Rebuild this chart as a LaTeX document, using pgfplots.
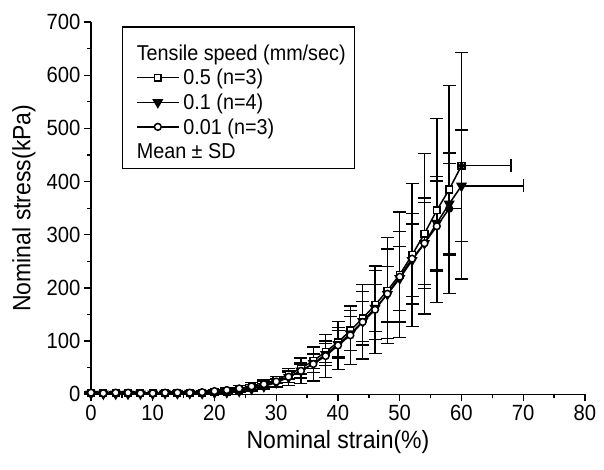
\documentclass[border=0pt]{standalone}
\usepackage{fontspec}
\setmainfont{Liberation Sans}[FakeStretch=0.92]
\usepackage{pgfplots}
\pgfplotsset{compat=1.18}
\begin{document}
\begin{tikzpicture}
\useasboundingbox (-91bp,-75.7bp) rectangle (513bp,394.3bp);
\begin{axis}[
  at={(0bp,0bp)}, anchor=south west,
  scale only axis, width=494bp, height=372.3bp,
  xmin=0, xmax=80, ymin=0, ymax=700,
  axis lines=left, axis line style={-, line width=1.4bp},
  xtick={0,10,...,80}, ytick={0,100,...,700},
  minor x tick num=1, minor y tick num=1,
  tick align=outside, major tick length=7bp, minor tick length=4bp,
  tick style={line width=1.3bp, black},
  /pgf/number format/assume math mode=true,
  tick label style={font=\fontsize{22bp}{26bp}\selectfont},
  label style={font=\fontsize{25bp}{29bp}\selectfont},
  xlabel={Nominal strain(\%)}, ylabel={Nominal stress(kPa)},
  xlabel style={at={(axis description cs:0.5,0)}, anchor=north, yshift=-33bp},
  ylabel style={at={(axis description cs:0,0.5)}, anchor=south, xshift=-0bp, yshift=52bp},
  clip=false,
  legend style={at={(0.0621,0.988)}, anchor=north west, draw=black, line width=1.2bp,
    inner xsep=7bp, inner ysep=5bp, row sep=0pt, column sep=2bp,
    nodes={inner xsep=2bp, inner ysep=0pt, text height=19.6bp, text depth=5bp},
    font=\fontsize{21.5bp}{25bp}\selectfont},
  legend cell align=left,
  legend image code/.code={\path (-7bp,0bp); \draw[mark repeat=2,mark phase=2,#1] plot coordinates {(0bp,0bp) (20.8bp,0bp) (41.7bp,0bp)};},
  every axis plot/.append style={line width=1.5bp, black},
  error bars/error bar style={line width=1.4bp, black, solid},
  error bars/error mark options={rotate=90, mark size=6.5bp, line width=1.4bp, black},
]
\addlegendimage{empty legend}
\addlegendentry[text height=28.3bp]{\hspace*{-46.7bp}Tensile speed (mm/sec)}

% 0.5 mm/sec
\addplot[mark=square*, mark size=3.3bp, mark options={fill=white, solid, line width=1.5bp},
  error bars/.cd, y dir=both, y explicit] coordinates {
(0,2) +- (0,1) (2,2) +- (0,1) (4,2) +- (0,1) (6,2) +- (0,1) (8,2) +- (0,1)
(10,2) +- (0,1) (12,2) +- (0,1) (14,3) +- (0,1) (16,3) +- (0,1) (18,3) +- (0,1)
(20,4) +- (0,2) (22,5) +- (0,3) (24,8) +- (0,4) (26,13) +- (0,5) (28,19) +- (0,5)
(30,27) +- (0,6) (32,37) +- (0,8) (34,49) +- (0,11) (36,63) +- (0,14) (38,80) +- (0,20)
(40,98) +- (0,28) (42,120) +- (0,38) (44,143) +- (0,50) (46,168) +- (0,65) (48,195) +- (0,100)
(50,225) +- (0,118) (52,262) +- (0,134) (54,302) +- (0,151) (56,346) +- (0,173) (58,385) +- (0,196)
(60,430) +- (0,213)
};
\addlegendentry{0.5 (n=3)}

% 0.1 mm/sec
\addplot[mark=triangle*, mark size=5bp, mark options={fill=black, solid, rotate=180},
  error bars/.cd, y dir=both, y explicit] coordinates {
(0,1) +- (0,1) (2,1) +- (0,1) (4,1) +- (0,1) (6,1) +- (0,1) (8,1) +- (0,1)
(10,1) +- (0,1) (12,2) +- (0,1) (14,2) +- (0,1) (16,2) +- (0,1) (18,2) +- (0,1)
(20,3) +- (0,2) (22,4) +- (0,2) (24,6) +- (0,3) (26,10) +- (0,4) (28,15) +- (0,5)
(30,22) +- (0,7) (32,32) +- (0,10) (34,44) +- (0,13) (36,58) +- (0,17) (38,75) +- (0,21)
(40,94) +- (0,26) (42,114) +- (0,32) (44,137) +- (0,38) (46,162) +- (0,44) (48,188) +- (0,52)
(50,218) +- (0,60) (52,252) +- (0,68) (54,284) +- (0,77) (56,322) +- (0,88) (58,358) +- (0,96)
(60,392) +- (0,105)
};
\addlegendentry{0.1 (n=4)}

% 0.01 mm/sec
\addplot[mark=*, mark size=3.4bp, mark options={fill=white, solid, line width=1.5bp},
  error bars/.cd, y dir=both, y explicit] coordinates {
(0,3) +- (0,1) (2,2) +- (0,1) (4,3) +- (0,1) (6,3) +- (0,1) (8,2) +- (0,1)
(10,2) +- (0,1) (12,3) +- (0,1) (14,3) +- (0,1) (16,3) +- (0,1) (18,4) +- (0,2)
(20,6) +- (0,3) (22,8) +- (0,4) (24,11) +- (0,5) (26,15) +- (0,7) (28,19) +- (0,8)
(30,24) +- (0,10) (32,33) +- (0,16) (34,44) +- (0,24) (36,57) +- (0,32) (38,72) +- (0,40)
(40,92) +- (0,45) (42,111) +- (0,55) (44,136) +- (0,70) (46,159) +- (0,82) (48,189) +- (0,84)
(50,221) +- (0,85) (52,255) +- (0,85) (54,284) +- (0,85) (56,316) +- (0,85) (58,349) +- (0,85)
};
\addlegendentry{0.01 (n=3)}

% horizontal SD of the last points
\addplot[only marks, mark=none, forget plot, error bars/.cd, x dir=plus, x explicit]
  coordinates {(60,430) +- (8,0) (60,392) +- (10,0) (58,349) +- (2,0)};

\addlegendimage{empty legend}
\addlegendentry{\hspace*{-46.7bp}Mean ± SD}
\end{axis}
\end{tikzpicture}
\end{document}
